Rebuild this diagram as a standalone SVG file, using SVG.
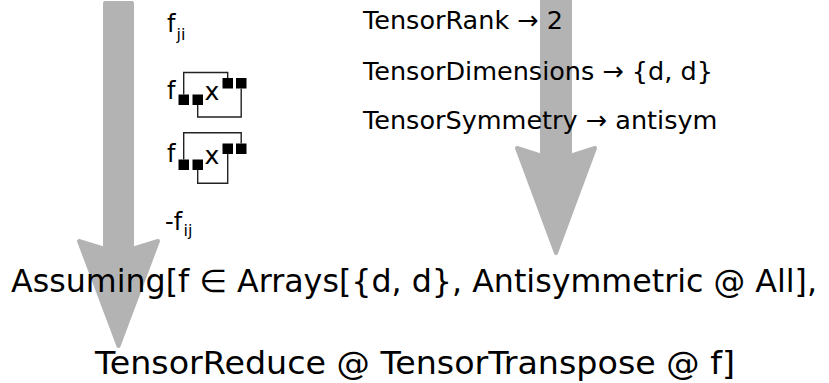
<svg xmlns="http://www.w3.org/2000/svg" width="829" height="383" viewBox="0 0 829 383">
<style>
text{font-family:"DejaVu Sans","Noto Sans",sans-serif;fill:#000}
.arrow{fill:#b3b3b3;stroke:#b3b3b3;stroke-width:4;stroke-linejoin:round}
.big{font-size:32.5px}
.big1{font-size:31.5px}
.mid{font-size:25.5px}
.sm{font-size:24px}
.xx{font-size:25px}
.sub{font-size:16px}
.sq{fill:#000}
.wire{fill:none;stroke:#222;stroke-width:1.4}
</style>
<rect width="829" height="383" fill="#fff"/>
<g id="connectors">
<path class="arrow" d="M105,3 L132,3 L132,249 L158,241 L118.5,346 L79,241 L105,249 Z"/>
<path class="arrow" d="M542,0 L570,0 L570,156 L595,148 L556,253 L517,148 L542,156 Z"/>
</g>
<g id="n-fji">
<text class="sm" x="167" y="32">f</text><text class="sub" x="176.5" y="40">ji</text>
</g>
<g id="n-diag1">
<text class="sm" x="167" y="99">f</text>
<rect class="sq" x="178.5" y="94.5" width="10.5" height="10.5"/>
<rect class="sq" x="192.5" y="94.5" width="10.5" height="10.5"/>
<text class="xx" x="204.5" y="99.5">x</text>
<rect class="sq" x="222.5" y="78" width="10.5" height="10.5"/>
<rect class="sq" x="236" y="78" width="10.5" height="10.5"/>
<path class="wire" d="M183.7,94.5 V72.5 H227.7 V78"/>
<path class="wire" d="M197.7,105 V117 H241.2 V88.5"/>
</g>
<g id="n-diag2">
<text class="sm" x="167" y="162">f</text>
<rect class="sq" x="178.5" y="159.5" width="10.5" height="10.5"/>
<rect class="sq" x="192.5" y="159.5" width="10.5" height="10.5"/>
<text class="xx" x="204.5" y="163.5">x</text>
<rect class="sq" x="222.5" y="143.5" width="10.5" height="10.5"/>
<rect class="sq" x="236" y="143.5" width="10.5" height="10.5"/>
<path class="wire" d="M183.7,159.5 V132.7 H241.2 V143.5"/>
<path class="wire" d="M197.7,170 V183.3 H227.7 V154"/>
</g>
<g id="n-fij">
<text class="sm" x="165" y="230">-f</text><text class="sub" x="183.5" y="236">ij</text>
</g>
<g id="n-props">
<text class="mid" x="363" y="29">TensorRank → 2</text>
<text class="mid" x="363" y="80">TensorDimensions → {d, d}</text>
<text class="mid" x="363" y="129">TensorSymmetry → antisym</text>
</g>
<g id="n-expr">
<text class="big1" x="11" y="292" textLength="806" lengthAdjust="spacingAndGlyphs">Assuming[f ∈ Arrays[{d, d}, Antisymmetric @ All],</text>
<text class="big" x="95" y="374" textLength="640" lengthAdjust="spacingAndGlyphs">TensorReduce @ TensorTranspose @ f]</text>
</g>
</svg>
